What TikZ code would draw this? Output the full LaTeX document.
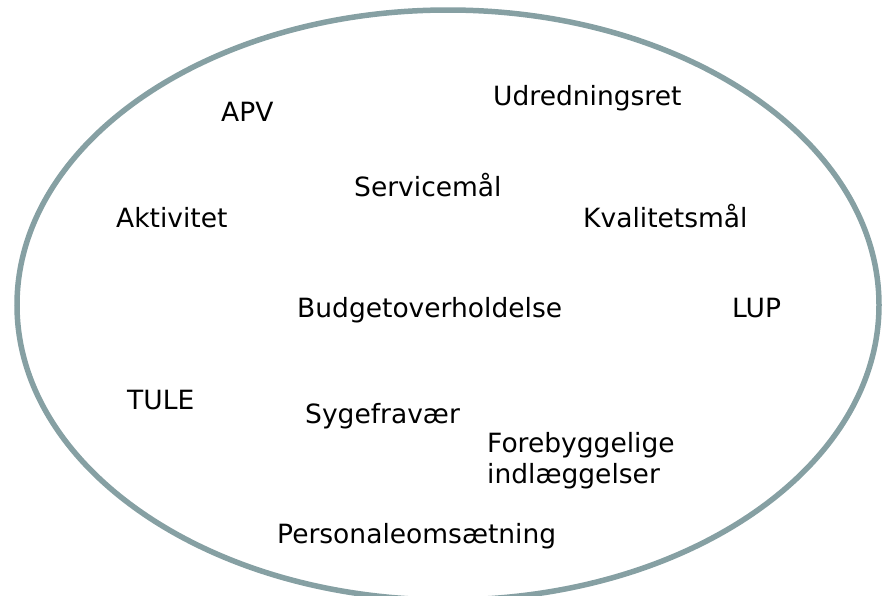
\documentclass[tikz,border=0pt]{standalone}
\usepackage{fontspec}
\setmainfont{DejaVu Sans}
\definecolor{ringcol}{RGB}{134,160,163}
\begin{document}
\begin{tikzpicture}[x=1pt,y=-1pt,
  lbl/.style={anchor=base west,inner sep=0pt,font=\fontsize{26.5}{31}\selectfont,text=black}]
\useasboundingbox (0,0) rectangle (887,595);
\draw[ringcol,line width=5.5pt] (448,305) ellipse [x radius=431, y radius=295];
\node[lbl] (apv) at (221,121) {APV};
\node[lbl] (udr) at (493,105) {Udredningsret};
\node[lbl] (serv) at (354,196) {Servicemål};
\node[lbl] (akt) at (116,227) {Aktivitet};
\node[lbl] (kval) at (583,227) {Kvalitetsmål};
\node[lbl] (budg) at (297,317) {Budgetoverholdelse};
\node[lbl] (lup) at (732,317) {LUP};
\node[lbl] (tule) at (127,409) {TULE};
\node[lbl] (syg) at (305,423) {Sygefravær};
\node[lbl] (fore1) at (487,452) {Forebyggelige};
\node[lbl] (fore2) at (487,483) {indlæggelser};
\node[lbl] (pers) at (277,543) {Personaleomsætning};
\end{tikzpicture}
\end{document}
